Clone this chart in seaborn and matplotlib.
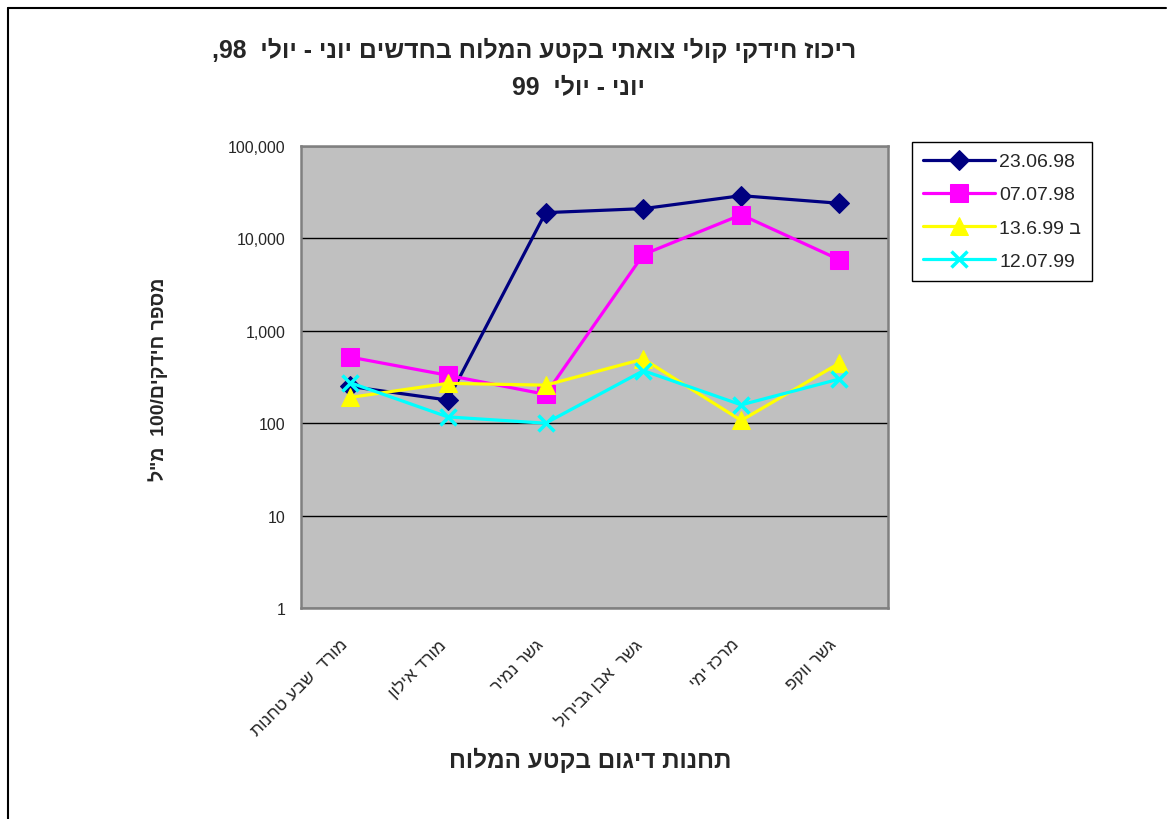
import re
import numpy as np
import pandas as pd
import matplotlib
matplotlib.use("Agg")
import matplotlib.pyplot as plt
import seaborn as sns
from matplotlib.ticker import FuncFormatter, NullLocator
from matplotlib.lines import Line2D
from matplotlib.transforms import ScaledTranslation

# stations along the saline section (logical Hebrew order)
stations = ["מורד  שבע טחנות", "מורד אילון", "גשר נמיר", "גשר  אבן גבירול", "מרכז ימי", "גשר ווקפ"]

series_names = ["23.06.98", "07.07.98", "ב 13.6.99", "12.07.99"]
s_230698 = [250, 178, 19000, 21000, 29000, 24000]
s_070798 = [520, 330, 205, 6700, 18000, 5900]
s_130699 = [190, 270, 258, 495, 107, 445]
s_120799 = [275, 117, 100, 370, 158, 300]

y_ticks = [1, 10, 100, 1000, 10000, 100000]

title_line1 = "ריכוז חידקי קולי צואתי בקטע המלוח בחדשים יוני - יולי  98,"
title_line2 = "יוני - יולי  99"
x_title = "תחנות דיגום בקטע המלוח"
y_title = 'מספר חידקים/100  מ"ל'


def visual(text):
    # matplotlib has no bidi: put RTL text into visual order, keep numbers LTR
    num = r"\d[\d.]*\d|\d"
    parts = re.split("(" + num + ")", text)
    out = [p if re.fullmatch(num, p) else p[::-1] for p in parts]
    return "".join(reversed(out))


sns.set_style("white")
plt.rcParams["font.family"] = ["Liberation Sans", "DejaVu Sans"]

rows = []
for name, vals in zip(series_names, [s_230698, s_070798, s_130699, s_120799]):
    for i, v in enumerate(vals):
        rows.append({"pos": i, "value": v, "series": name})
df = pd.DataFrame(rows)

styles = {
    "23.06.98": dict(color="#000080", marker="D", markersize=10),
    "07.07.98": dict(color="#FF00FF", marker="s", markersize=13.5),
    "ב 13.6.99": dict(color="#FFFF00", marker="^", markersize=13),
    "12.07.99": dict(color="#00FFFF", marker="x", markersize=11, markeredgewidth=2.5),
}

fig = plt.figure(figsize=(11.73, 8.2), dpi=100)
W, H = 1173, 820
ax = fig.add_axes([301 / W, 1 - 609 / H, (888 - 301) / W, (609 - 147) / H])
ax.set_facecolor("#C0C0C0")

for name in series_names:
    st = styles[name]
    sub = df[df["series"] == name]
    sns.lineplot(data=sub, x="pos", y="value", ax=ax, linewidth=2.3,
                 markeredgecolor=st["color"], label=visual(name), **st)

ax.set_yscale("log")
ax.set_ylim(1, 100000)
ax.set_xlim(-0.5, 5.5)
ax.set_yticks(y_ticks)
ax.yaxis.set_minor_locator(NullLocator())
ax.yaxis.set_major_formatter(FuncFormatter(lambda v, _: f"{int(round(v)):,}"))
ax.yaxis.grid(True, color="black", linewidth=1)
ax.set_axisbelow(True)

ax.set_xticks(range(len(stations)))
ax.set_xticklabels([visual(s) for s in stations], rotation=45, ha="right", va="top",
                   rotation_mode="anchor", fontsize=12.5)
ax.set_xticks(np.arange(-0.5, len(stations), 1), minor=True)
ax.tick_params(axis="x", which="major", length=0, pad=20)
ax.tick_params(axis="x", which="minor", length=5, width=1, color="black", direction="out")
ax.tick_params(axis="y", which="major", length=5, width=1, color="black", direction="out",
               labelsize=11.5, pad=6)
ax.set_xlabel("")
ax.set_ylabel("")

# nudge the slanted station names a little to the left, as in the original
shift = ScaledTranslation(-10 / 100, 0, fig.dpi_scale_trans)
for lbl in ax.get_xticklabels():
    lbl.set_transform(lbl.get_transform() + shift)

for sp in ax.spines.values():
    sp.set_color("#808080")
    sp.set_linewidth(1.8)

fig.text(534 / W, 1 - 50 / H, visual(title_line1), ha="center", va="center",
         fontsize=17.8, fontweight="bold")
fig.text(578 / W, 1 - 87 / H, visual(title_line2), ha="center", va="center",
         fontsize=17.8, fontweight="bold")
fig.text(590 / W, 1 - 760 / H, visual(x_title), ha="center", va="center",
         fontsize=17.5, fontweight="bold")
fig.text(158 / W, 1 - 379 / H, visual(y_title), ha="center", va="center",
         rotation=90, fontsize=14, fontweight="bold")

handles, labels = ax.get_legend_handles_labels()
ax.get_legend().remove()
fig.legend(handles, labels, loc="upper left", bbox_to_anchor=(912 / W, 1 - 143 / H),
           frameon=True, fancybox=False, edgecolor="black", framealpha=1,
           borderaxespad=0, handlelength=3.7, fontsize=14, labelspacing=0.8,
           handletextpad=0.25, borderpad=0.55)

# outer chart frame (top and left edges visible)
fig.add_artist(Line2D([8 / W, 8 / W], [0, 1 - 9 / H], color="black", linewidth=1.5,
                      transform=fig.transFigure))
fig.add_artist(Line2D([8 / W, 1166 / W], [1 - 9 / H, 1 - 9 / H], color="black",
                      linewidth=1.5, transform=fig.transFigure))

fig.savefig("out.png", dpi=100)
